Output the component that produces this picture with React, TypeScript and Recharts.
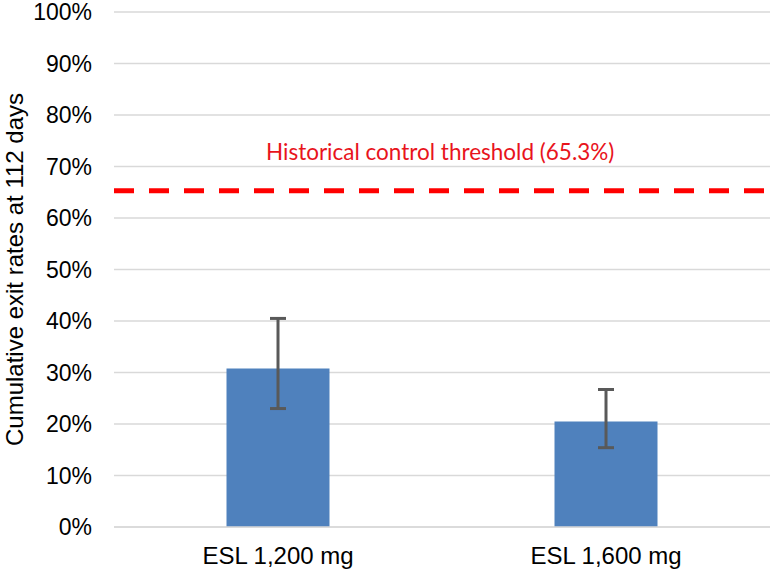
import React from 'react';
import {
  BarChart,
  Bar,
  XAxis,
  YAxis,
  CartesianGrid,
  ReferenceLine,
  ErrorBar,
  Label,
} from 'recharts';

const categories = ['ESL 1,200 mg', 'ESL 1,600 mg'];
const exitRates = [30.8, 20.5];
const lowerCI = [23.0, 15.4];
const upperCI = [40.5, 26.7];
const yTicks = [0, 10, 20, 30, 40, 50, 60, 70, 80, 90, 100];
const threshold = 65.3;
const thresholdLabel = 'Historical control threshold (65.3%)';
const yAxisTitle = 'Cumulative exit rates at 112 days';

const data = categories.map((name, i) => ({
  name,
  rate: exitRates[i],
  err: [exitRates[i] - lowerCI[i], upperCI[i] - exitRates[i]],
}));

const font = '"Liberation Sans", Arial, sans-serif';

const YTitle = (props: any) => {
  const { viewBox } = props;
  const cx = 14;
  const cy = viewBox.y + viewBox.height / 2;
  return (
    <text
      x={cx}
      y={cy}
      transform={`rotate(-90, ${cx}, ${cy})`}
      textAnchor="middle"
      dominantBaseline="central"
      fontFamily={font}
      fontSize={24}
      fill="#000"
    >
      {yAxisTitle}
    </text>
  );
};

const ThresholdText = (props: any) => {
  const { viewBox } = props;
  return (
    <text
      x={viewBox.x + 152}
      y={viewBox.y - 39}
      textAnchor="start"
      dominantBaseline="central"
      fontFamily='Lato, "Open Sans", sans-serif'
      fontSize={22.5}
      fill="#e8141c"
    >
      {thresholdLabel}
    </text>
  );
};

const App = () => {
  return (
    <div style={{ position: 'absolute', left: 0, top: 0 }}>
      <BarChart
        width={774}
        height={572}
        data={data}
        margin={{ top: 12, right: 4, left: 0, bottom: 0 }}
        barCategoryGap="34.3%"
      >
        <CartesianGrid vertical={false} stroke="#d9d9d9" strokeWidth={1.5} />
        <XAxis
          dataKey="name"
          height={45}
          axisLine={{ stroke: '#d9d9d9', strokeWidth: 1.5 }}
          tickLine={false}
          tickSize={0}
          tickMargin={20}
          tick={{ fontFamily: font, fontSize: 24, fill: '#000' }}
        />
        <YAxis
          width={114}
          domain={[0, 100]}
          ticks={yTicks}
          interval={0}
          axisLine={false}
          tickLine={false}
          tickSize={0}
          tickMargin={22}
          tickFormatter={(v) => `${v}%`}
          tick={{ fontFamily: font, fontSize: 23, fill: '#000' }}
        >
          <Label content={YTitle} />
        </YAxis>
        <ReferenceLine
          y={threshold}
          stroke="#ff0000"
          strokeWidth={5}
          strokeDasharray="20 15"
          label={<ThresholdText />}
        />
        <Bar dataKey="rate" fill="#4f81bd" isAnimationActive={false}>
          <ErrorBar dataKey="err" width={8} stroke="#595959" strokeWidth={3} />
        </Bar>
      </BarChart>
    </div>
  );
};

export default App;
